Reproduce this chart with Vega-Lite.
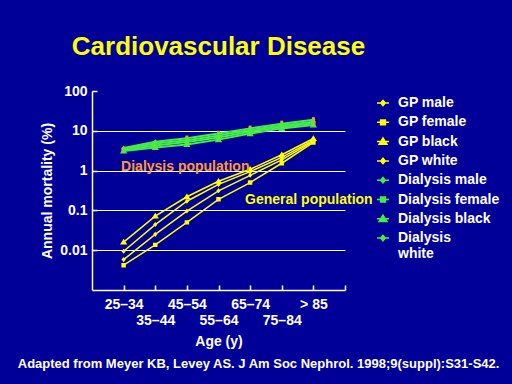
{
  "$schema": "https://vega.github.io/schema/vega-lite/v6.json",
  "background": "#000099",
  "padding": {"left": 17, "top": 34, "right": 12, "bottom": 14},
  "title": {
    "text": "Adapted from Meyer KB, Levey AS. J Am Soc Nephrol. 1998;9(suppl):S31-S42.",
    "orient": "bottom", "anchor": "start", "dx": -23, "offset": 10,
    "color": "white", "font": "Liberation Sans", "fontSize": 13, "fontWeight": "bold"
  },
  "datasets": {
    "mortality": [
      {"series": "GP male", "age": "25–34", "i": 1, "mortality": 0.0094},
      {"series": "GP male", "age": "35–44", "i": 2, "mortality": 0.044},
      {"series": "GP male", "age": "45–54", "i": 3, "mortality": 0.17},
      {"series": "GP male", "age": "55–64", "i": 4, "mortality": 0.45},
      {"series": "GP male", "age": "65–74", "i": 5, "mortality": 0.94},
      {"series": "GP male", "age": "75–84", "i": 6, "mortality": 2.14},
      {"series": "GP male", "age": "> 85", "i": 7, "mortality": 5.8},
      {"series": "GP female", "age": "25–34", "i": 1, "mortality": 0.0042},
      {"series": "GP female", "age": "35–44", "i": 2, "mortality": 0.0136},
      {"series": "GP female", "age": "45–54", "i": 3, "mortality": 0.05},
      {"series": "GP female", "age": "55–64", "i": 4, "mortality": 0.19},
      {"series": "GP female", "age": "65–74", "i": 5, "mortality": 0.5},
      {"series": "GP female", "age": "75–84", "i": 6, "mortality": 1.53},
      {"series": "GP female", "age": "> 85", "i": 7, "mortality": 5.1},
      {"series": "GP black", "age": "25–34", "i": 1, "mortality": 0.016},
      {"series": "GP black", "age": "35–44", "i": 2, "mortality": 0.072},
      {"series": "GP black", "age": "45–54", "i": 3, "mortality": 0.22},
      {"series": "GP black", "age": "55–64", "i": 4, "mortality": 0.54},
      {"series": "GP black", "age": "65–74", "i": 5, "mortality": 1.08},
      {"series": "GP black", "age": "75–84", "i": 6, "mortality": 2.5},
      {"series": "GP black", "age": "> 85", "i": 7, "mortality": 6.4},
      {"series": "GP white", "age": "25–34", "i": 1, "mortality": 0.0058},
      {"series": "GP white", "age": "35–44", "i": 2, "mortality": 0.025},
      {"series": "GP white", "age": "45–54", "i": 3, "mortality": 0.096},
      {"series": "GP white", "age": "55–64", "i": 4, "mortality": 0.31},
      {"series": "GP white", "age": "65–74", "i": 5, "mortality": 0.76},
      {"series": "GP white", "age": "75–84", "i": 6, "mortality": 1.86},
      {"series": "GP white", "age": "> 85", "i": 7, "mortality": 5.5},
      {"series": "Dialysis male", "age": "25–34", "i": 1, "mortality": 3.5},
      {"series": "Dialysis male", "age": "35–44", "i": 2, "mortality": 4.8},
      {"series": "Dialysis male", "age": "45–54", "i": 3, "mortality": 5.8},
      {"series": "Dialysis male", "age": "55–64", "i": 4, "mortality": 7.6},
      {"series": "Dialysis male", "age": "65–74", "i": 5, "mortality": 10.5},
      {"series": "Dialysis male", "age": "75–84", "i": 6, "mortality": 13.5},
      {"series": "Dialysis male", "age": "> 85", "i": 7, "mortality": 17},
      {"series": "Dialysis female", "age": "25–34", "i": 1, "mortality": 3.3},
      {"series": "Dialysis female", "age": "35–44", "i": 2, "mortality": 4.3},
      {"series": "Dialysis female", "age": "45–54", "i": 3, "mortality": 5.2},
      {"series": "Dialysis female", "age": "55–64", "i": 4, "mortality": 6.8},
      {"series": "Dialysis female", "age": "65–74", "i": 5, "mortality": 9.5},
      {"series": "Dialysis female", "age": "75–84", "i": 6, "mortality": 12.5},
      {"series": "Dialysis female", "age": "> 85", "i": 7, "mortality": 15.5},
      {"series": "Dialysis black", "age": "25–34", "i": 1, "mortality": 3.1},
      {"series": "Dialysis black", "age": "35–44", "i": 2, "mortality": 3.8},
      {"series": "Dialysis black", "age": "45–54", "i": 3, "mortality": 4.5},
      {"series": "Dialysis black", "age": "55–64", "i": 4, "mortality": 6.0},
      {"series": "Dialysis black", "age": "65–74", "i": 5, "mortality": 8.5},
      {"series": "Dialysis black", "age": "75–84", "i": 6, "mortality": 11.5},
      {"series": "Dialysis black", "age": "> 85", "i": 7, "mortality": 14},
      {"series": "Dialysis white", "age": "25–34", "i": 1, "mortality": 3.7},
      {"series": "Dialysis white", "age": "35–44", "i": 2, "mortality": 5.3},
      {"series": "Dialysis white", "age": "45–54", "i": 3, "mortality": 6.5},
      {"series": "Dialysis white", "age": "55–64", "i": 4, "mortality": 8.6},
      {"series": "Dialysis white", "age": "65–74", "i": 5, "mortality": 11.5},
      {"series": "Dialysis white", "age": "75–84", "i": 6, "mortality": 15},
      {"series": "Dialysis white", "age": "> 85", "i": 7, "mortality": 19}
    ],
    "dialysisRange": [
      {"age": "25–34", "i": 1, "low": 3.0, "high": 3.9},
      {"age": "35–44", "i": 2, "low": 3.6, "high": 5.6},
      {"age": "45–54", "i": 3, "low": 4.4, "high": 7.6},
      {"age": "55–64", "i": 4, "low": 5.6, "high": 10},
      {"age": "65–74", "i": 5, "low": 8, "high": 13.5},
      {"age": "75–84", "i": 6, "low": 11, "high": 18},
      {"age": "> 85", "i": 7, "low": 13, "high": 22}
    ]
  },
  "vconcat": [
    {
      "width": 253,
      "height": 199,
      "title": {
        "text": "Cardiovascular Disease", "anchor": "middle", "offset": 24,
        "color": "#FFFF00", "font": "Liberation Sans", "fontSize": 26, "fontWeight": "bold"
      },
      "resolve": {"axis": {"x": "independent"}},
      "layer": [
        {
          "data": {"name": "mortality"},
          "transform": [{"filter": "indexof(datum.series, 'GP') == 0"}],
          "mark": {"type": "line", "strokeWidth": 1.5, "color": "#FFFF00"},
          "encoding": {
            "x": {
              "field": "i", "type": "quantitative",
              "scale": {"domain": [0, 8], "nice": false, "zero": false},
              "axis": {
                "title": "Age (y)",
                "values": [1, 2, 3, 4, 5, 6, 7, 8],
                "labelExpr": "['','25–34','','45–54','','65–74','','> 85',''][datum.value]",
                "labelPadding": 12,
                "labelOverlap": false, "labelFlush": false, "labelBound": false,
                "grid": false, "tickSize": -5, "titlePadding": 23
              }
            },
            "y": {
              "field": "mortality", "type": "quantitative",
              "scale": {"type": "log", "domain": [0.001, 100], "nice": false},
              "axis": {
                "title": "Annual mortality (%)",
                "values": [0.01, 0.1, 1, 10, 100],
                "format": "~g",
                "grid": true,
                "gridOpacity": {"condition": {"test": "datum.value == 100", "value": 0}, "value": 1},
                "tickSize": -5, "labelPadding": 10, "titlePadding": 5
              }
            },
            "detail": {"field": "series", "type": "nominal"}
          }
        },
        {
          "data": {"name": "mortality"},
          "mark": {"type": "point", "filled": true, "opacity": 1, "size": 125},
          "encoding": {
            "x": {"field": "i", "type": "quantitative", "axis": null},
            "y": {"field": "mortality", "type": "quantitative"},
            "color": {
              "field": "series", "type": "nominal",
              "scale": {
                "domain": ["GP male", "GP female", "GP black", "GP white", "Dialysis male", "Dialysis female", "Dialysis black", "Dialysis white"],
                "range": ["#FFFF00", "#FFFF00", "#FFFF00", "#FFFF00", "#44EE44", "#44EE44", "#44EE44", "#44EE44"]
              },
              "legend": {
                "title": null,
                "labelExpr": "datum.label == 'Dialysis white' ? ['Dialysis', 'white'] : datum.label",
                "encoding": {"symbols": {
                  "stroke": {"value": {"expr": "indexof(datum.value, 'GP') == 0 ? '#FFFF00' : '#44EE44'"}},
                  "strokeWidth": {"value": 1.5}
                }}
              }
            },
            "shape": {
              "field": "series", "type": "nominal",
              "scale": {
                "domain": ["GP male", "GP female", "GP black", "GP white", "Dialysis male", "Dialysis female", "Dialysis black", "Dialysis white"],
                "range": [
                  "M-1,0H1M-0.38,0L0,-0.45L0.38,0L0,0.45Z",
                  "M-1,0H1M-0.4,-0.4H0.4V0.4H-0.4Z",
                  "M-1,0H1M-0.65,0.45L0,-0.6L0.65,0.45Z",
                  "M-1,0H1M-0.38,0L0,-0.45L0.38,0L0,0.45Z",
                  "M-1,0H1M-0.38,0L0,-0.45L0.38,0L0,0.45Z",
                  "M-1,0H1M-0.4,-0.4H0.4V0.4H-0.4Z",
                  "M-1,0H1M-0.65,0.45L0,-0.6L0.65,0.45Z",
                  "M-1,0H1M-0.38,0L0,-0.45L0.38,0L0,0.45Z"
                ]
              },
              "legend": {
                "title": null,
                "labelExpr": "datum.label == 'Dialysis white' ? ['Dialysis', 'white'] : datum.label",
                "encoding": {"symbols": {
                  "stroke": {"value": {"expr": "indexof(datum.value, 'GP') == 0 ? '#FFFF00' : '#44EE44'"}},
                  "strokeWidth": {"value": 1.5}
                }}
              }
            }
          }
        },
        {
          "data": {"name": "dialysisRange"},
          "mark": {"type": "rule", "color": "#FF9933", "strokeWidth": 3},
          "encoding": {
            "x": {"field": "i", "type": "quantitative", "axis": null},
            "y": {"field": "low", "type": "quantitative"},
            "y2": {"field": "high"}
          }
        },
        {
          "data": {"name": "mortality"},
          "transform": [{"filter": "indexof(datum.series, 'Dialysis') == 0"}],
          "mark": {"type": "line", "strokeWidth": 2, "color": "#44EE44"},
          "encoding": {
            "x": {
              "field": "i", "type": "quantitative",
              "axis": {
                "orient": "bottom", "title": null,
                "values": [2, 4, 6],
                "labelExpr": "['','','35–44','','55–64','','75–84','',''][datum.value]",
                "labelPadding": 23, "domain": false, "ticks": false, "grid": false,
                "labelOverlap": false, "labelFlush": false, "labelBound": false
              }
            },
            "y": {"field": "mortality", "type": "quantitative"},
            "detail": {"field": "series", "type": "nominal"}
          }
        },
        {
          "data": {"values": [{}]},
          "mark": {"type": "text", "align": "left", "baseline": "middle", "color": "#FF9933", "font": "Liberation Sans", "fontSize": 14, "fontWeight": "bold"},
          "encoding": {
            "x": {"datum": 0.92, "type": "quantitative", "axis": null},
            "y": {"datum": 1.2, "type": "quantitative"},
            "text": {"value": "Dialysis population"}
          }
        },
        {
          "data": {"values": [{}]},
          "mark": {"type": "text", "align": "left", "baseline": "middle", "color": "#FFFF00", "font": "Liberation Sans", "fontSize": 14, "fontWeight": "bold"},
          "encoding": {
            "x": {"datum": 4.84, "type": "quantitative", "axis": null},
            "y": {"datum": 0.18, "type": "quantitative"},
            "text": {"value": "General population"}
          }
        }
      ]
    }
  ],
  "config": {
    "view": {"stroke": null},
    "axis": {
      "domainColor": "white", "domainWidth": 1.5,
      "tickColor": "white", "tickWidth": 1.5,
      "gridColor": "white", "gridWidth": 1,
      "labelColor": "white", "labelFont": "Liberation Sans", "labelFontSize": 14, "labelFontWeight": "bold",
      "titleColor": "white", "titleFont": "Liberation Sans", "titleFontSize": 14, "titleFontWeight": "bold"
    },
    "legend": {
      "orient": "right", "offset": -2, "padding": 5,
      "labelColor": "white", "labelFont": "Liberation Sans", "labelFontSize": 14, "labelFontWeight": "bold",
      "symbolSize": 144, "rowPadding": 5.3, "labelOffset": 8, "symbolStrokeWidth": 1.5
    }
  }
}
